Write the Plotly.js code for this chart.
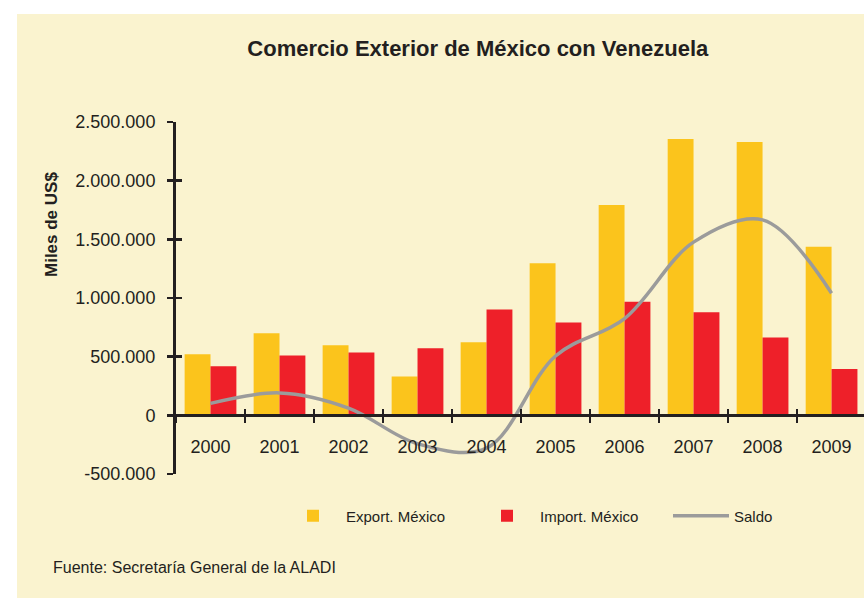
<!DOCTYPE html>
<html>
<head>
<meta charset="utf-8">
<script src="https://cdn.plot.ly/plotly-3.0.1.min.js"></script>
<style>html,body{margin:0;padding:0;background:#fff;}#chart{width:864px;height:598px;}</style>
</head>
<body>
<div id="chart"></div>
<script>
const years = ['2000','2001','2002','2003','2004','2005','2006','2007','2008','2009'];
const exportMexico = [520000, 700000, 597000, 330000, 623000, 1297000, 1792000, 2355000, 2329000, 1436000];
const importMexico = [418000, 509000, 535000, 572000, 902000, 791000, 967000, 879000, 663000, 395000];
const saldo = [102000, 191000, 62000, -242000, -279000, 506000, 825000, 1476000, 1666000, 1041000];
const yTickVals = [-500000, 0, 500000, 1000000, 1500000, 2000000, 2500000];
const yTickLabels = ['-500.000', '0', '500.000', '1.000.000', '1.500.000', '2.000.000', '2.500.000'];

const ink = '#231F20';
const cream = '#FAF3CF';
const baseFont = 'Liberation Sans, Arial, sans-serif';
const yRange = [-500000, 2500000];
const xRange = [-0.5, 9.47];
const zeroPos = (0 - yRange[0]) / (yRange[1] - yRange[0]);

const traces = [
  {type: 'bar', name: 'Export. México', x: years, y: exportMexico,
   marker: {color: '#FBC41C'}, hoverinfo: 'x+y'},
  {type: 'bar', name: 'Import. México', x: years, y: importMexico,
   marker: {color: '#EE2029'}, hoverinfo: 'x+y'},
  {type: 'scatter', mode: 'lines', name: 'Saldo', x: years, y: saldo,
   xaxis: 'x2', yaxis: 'y2',
   line: {color: '#9B9B9B', width: 3.5, shape: 'spline', smoothing: 1}}
];

const layout = {
  width: 864, height: 598,
  margin: {l: 176, r: 0, t: 122, b: 124},
  paper_bgcolor: '#ffffff',
  plot_bgcolor: 'rgba(0,0,0,0)',
  separators: ',.',
  barmode: 'group',
  bargap: 0.25,
  bargroupgap: 0,
  font: {family: baseFont, color: ink},
  title: {text: '<b>Comercio Exterior de México con Venezuela</b>',
          font: {family: baseFont, size: 22, color: ink},
          x: 0.553, xanchor: 'center', y: 0.92, yanchor: 'middle', xref: 'container', yref: 'container'},
  xaxis: {type: 'category', range: xRange, anchor: 'free', position: zeroPos,
          showline: true, linecolor: ink, linewidth: 3,
          ticks: 'outside', tickson: 'boundaries', ticklen: 6, tickwidth: 2.5, tickcolor: ink,
          ticklabelstandoff: 14,
          tickfont: {size: 18, color: ink}, showgrid: false, zeroline: false, fixedrange: true},
  xaxis2: {type: 'category', range: xRange, overlaying: 'x', anchor: 'free', position: zeroPos,
           showline: false, ticks: 'inside', tickson: 'boundaries', ticklen: 6, tickwidth: 2.5, tickcolor: ink,
           showticklabels: false, showgrid: false, zeroline: false, fixedrange: true},
  yaxis: {range: yRange, tickvals: yTickVals, ticktext: yTickLabels,
          showline: true, linecolor: ink, linewidth: 3,
          ticks: 'outside', ticklen: 6, tickwidth: 2.5, tickcolor: ink,
          ticklabelstandoff: 8,
          tickfont: {size: 18, color: ink}, showgrid: false, zeroline: false, fixedrange: true},
  yaxis2: {range: yRange, tickvals: yTickVals, overlaying: 'y', side: 'left',
           showline: false, ticks: 'inside', ticklen: 6, tickwidth: 2.5, tickcolor: ink,
           showticklabels: false, showgrid: false, zeroline: false, fixedrange: true},
  showlegend: true,
  legend: {orientation: 'h', x: (280 - 176) / 688, xanchor: 'left', y: (474 - 516) / 352, yanchor: 'middle',
           bgcolor: 'rgba(0,0,0,0)', font: {family: baseFont, size: 15, color: ink},
           itemwidth: 56, entrywidth: 123, entrywidthmode: 'pixels', traceorder: 'normal'},
  shapes: [
    {type: 'rect', xref: 'paper', yref: 'paper', layer: 'below',
     x0: (17 - 176) / 688, x1: 1.01, y0: -0.36, y1: (474 - 14) / 352,
     fillcolor: cream, line: {width: 0}}
  ],
  annotations: [
    {text: '<b>Miles de US$</b>', xref: 'paper', yref: 'paper', textangle: -90,
     x: (51 - 176) / 688, xanchor: 'center', y: (474 - 225) / 352, yanchor: 'middle',
     showarrow: false, font: {family: baseFont, size: 17, color: ink}},
    {text: 'Fuente: Secretaría General de la ALADI', xref: 'paper', yref: 'paper',
     x: (51 - 176) / 688, xanchor: 'left', y: (474 - 567) / 352, yanchor: 'middle',
     showarrow: false, font: {family: baseFont, size: 16, color: ink}}
  ]
};

Plotly.newPlot('chart', traces, layout, {displayModeBar: false, staticPlot: true});
</script>
</body>
</html>
